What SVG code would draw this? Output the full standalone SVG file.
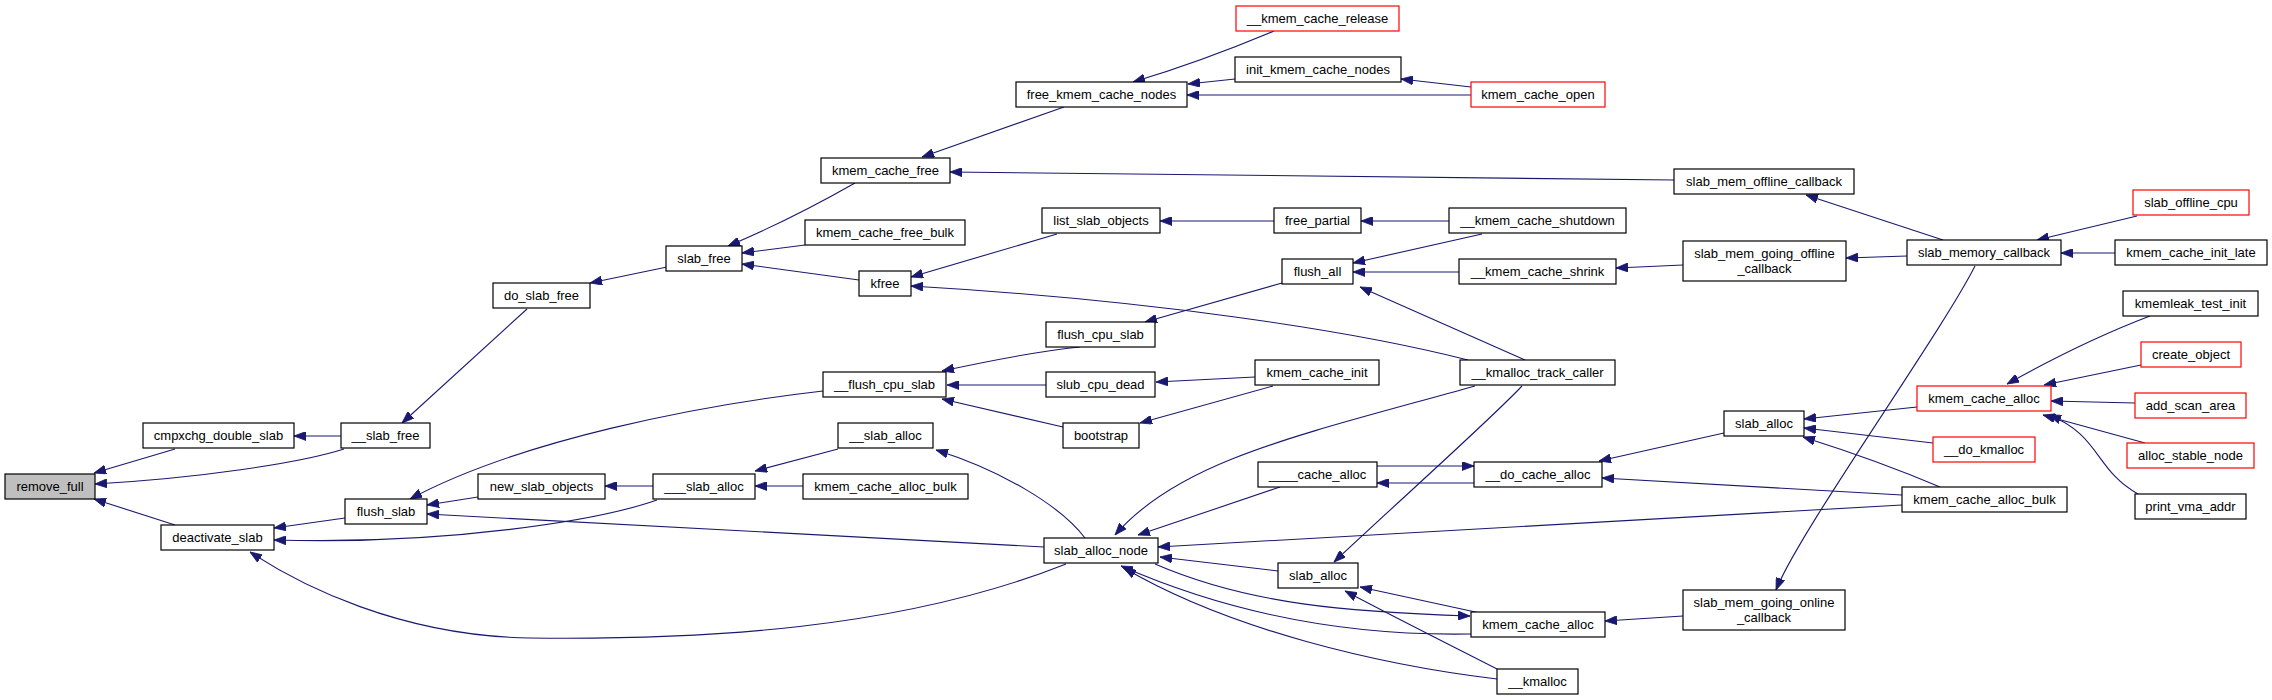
<svg xmlns="http://www.w3.org/2000/svg" width="2272" height="700" viewBox="0 0 2272 700">
<style>
.nd rect{fill:#fff;stroke:#000;stroke-width:1.2}
.nd.red rect{stroke:#ff0000}
.nd.cur rect{fill:#bfbfbf}
.nd text{font-family:"Liberation Sans",Arial,sans-serif;font-size:13px;fill:#000;text-anchor:middle}
.ed path{fill:none;stroke:#191970;stroke-width:1.1;marker-end:url(#ah)}
</style>
<defs>
<marker id="ah" viewBox="0 0 12 9" refX="12" refY="4.5" markerWidth="12" markerHeight="9" markerUnits="userSpaceOnUse" orient="auto">
<path d="M0,0 L12,4.5 L0,9 z" fill="#191970" stroke="#191970" stroke-width="0.8"/>
</marker>
</defs>
<rect width="2272" height="700" fill="#fff"/>
<g id="connectors" class="ed">
<path d="M175,449 L94,473"/>
<path d="M344,449 C300,463 200,478 95,484"/>
<path d="M175,525 L94,499"/>
<path d="M341,436 L294,436"/>
<path d="M527,309 L402,423"/>
<path d="M667,267 L590,283"/>
<path d="M855,183 Q790,220 728,246"/>
<path d="M805,245 L742,253"/>
<path d="M859,280 L742,264"/>
<path d="M1064,107 L922,157"/>
<path d="M1274,31 Q1200,62 1133,82"/>
<path d="M1235,79 L1188,84"/>
<path d="M1471,95 L1187,95"/>
<path d="M1471,87 L1401,79"/>
<path d="M1674,180 L950,172"/>
<path d="M1943,240 L1806,195"/>
<path d="M1907,256 L1846,258"/>
<path d="M2137,216 L2037,240"/>
<path d="M2115,253 L2061,253"/>
<path d="M1683,265 L1616,268"/>
<path d="M1975,266 C1940,335 1800,530 1776,590"/>
<path d="M1683,616 L1605,621"/>
<path d="M1057,234 L911,277"/>
<path d="M1274,221 L1160,221"/>
<path d="M1449,221 L1361,221"/>
<path d="M1482,234 L1353,263"/>
<path d="M1459,272 L1353,272"/>
<path d="M1525,360 L1360,287"/>
<path d="M1468,360 C1350,330 1150,300 911,286"/>
<path d="M1282,283 L1145,322"/>
<path d="M1080,347 Q1030,352 942,371"/>
<path d="M1046,385 L947,385"/>
<path d="M1063,427 L942,399"/>
<path d="M1255,377 L1156,382"/>
<path d="M1273,386 L1140,423"/>
<path d="M823,391 C700,405 520,440 410,499"/>
<path d="M478,497 L427,505"/>
<path d="M653,486 L605,486"/>
<path d="M657,500 C600,520 450,545 274,540"/>
<path d="M345,518 L274,528"/>
<path d="M1044,547 L427,514"/>
<path d="M1066,564 C900,630 700,640 530,638 C400,636 300,585 250,552"/>
<path d="M838,449 L755,471"/>
<path d="M803,486 L755,486"/>
<path d="M1085,538 C1060,505 1000,470 936,450"/>
<path d="M1475,386 C1300,435 1180,460 1115,535"/>
<path d="M1280,487 L1138,535"/>
<path d="M1377,466 L1474,466"/>
<path d="M1474,483 L1377,483"/>
<path d="M1724,433 L1599,461"/>
<path d="M1902,495 L1602,478"/>
<path d="M1902,505 L1158,547"/>
<path d="M1917,407 L1804,419"/>
<path d="M1933,443 L1804,428"/>
<path d="M1940,487 C1900,470 1860,455 1803,437"/>
<path d="M2150,316 C2100,335 2050,360 2007,384"/>
<path d="M2141,365 L2044,385"/>
<path d="M2135,403 L2051,401"/>
<path d="M2145,443 L2043,415"/>
<path d="M2138,494 C2095,470 2100,435 2049,415"/>
<path d="M1522,386 C1490,420 1400,500 1334,562"/>
<path d="M1278,571 L1160,557"/>
<path d="M1155,564 C1250,605 1350,612 1470,616"/>
<path d="M1471,634 C1360,636 1240,618 1121,566"/>
<path d="M1480,613 L1360,587"/>
<path d="M1497,669 C1450,645 1400,620 1345,591"/>
<path d="M1497,679 C1380,665 1230,630 1124,568"/>
</g>
<g id="remove_full" class="nd cur"><rect x="5" y="474" width="90" height="25"/><text x="50" y="491">remove_full</text></g>
<g id="cmpxchg_double_slab" class="nd"><rect x="143" y="423" width="151" height="25"/><text x="218.5" y="440">cmpxchg_double_slab</text></g>
<g id="__slab_free" class="nd"><rect x="341" y="423" width="89" height="25"/><text x="385.5" y="440">__slab_free</text></g>
<g id="deactivate_slab" class="nd"><rect x="161" y="525" width="113" height="25"/><text x="217.5" y="542">deactivate_slab</text></g>
<g id="flush_slab" class="nd"><rect x="345" y="499" width="82" height="25"/><text x="386" y="516">flush_slab</text></g>
<g id="do_slab_free" class="nd"><rect x="493" y="283" width="97" height="25"/><text x="541.5" y="300">do_slab_free</text></g>
<g id="slab_free" class="nd"><rect x="666" y="246" width="76" height="25"/><text x="704" y="263">slab_free</text></g>
<g id="new_slab_objects" class="nd"><rect x="478" y="474" width="127" height="25"/><text x="541.5" y="491">new_slab_objects</text></g>
<g id="___slab_alloc" class="nd"><rect x="653" y="474" width="102" height="25"/><text x="704" y="491">___slab_alloc</text></g>
<g id="kmem_cache_free" class="nd"><rect x="821" y="158" width="129" height="25"/><text x="885.5" y="175">kmem_cache_free</text></g>
<g id="kmem_cache_free_bulk" class="nd"><rect x="805" y="220" width="160" height="25"/><text x="885" y="237">kmem_cache_free_bulk</text></g>
<g id="kfree" class="nd"><rect x="859" y="271" width="52" height="25"/><text x="885" y="288">kfree</text></g>
<g id="__flush_cpu_slab" class="nd"><rect x="823" y="372" width="123" height="25"/><text x="884.5" y="389">__flush_cpu_slab</text></g>
<g id="__slab_alloc" class="nd"><rect x="838" y="423" width="95" height="25"/><text x="885.5" y="440">__slab_alloc</text></g>
<g id="kmem_cache_alloc_bulk_a" class="nd"><rect x="803" y="474" width="165" height="25"/><text x="885.5" y="491">kmem_cache_alloc_bulk</text></g>
<g id="free_kmem_cache_nodes" class="nd"><rect x="1016" y="82" width="171" height="25"/><text x="1101.5" y="99">free_kmem_cache_nodes</text></g>
<g id="list_slab_objects" class="nd"><rect x="1042" y="208" width="118" height="25"/><text x="1101" y="225">list_slab_objects</text></g>
<g id="flush_cpu_slab" class="nd"><rect x="1046" y="322" width="109" height="25"/><text x="1100.5" y="339">flush_cpu_slab</text></g>
<g id="slub_cpu_dead" class="nd"><rect x="1046" y="372" width="109" height="25"/><text x="1100.5" y="389">slub_cpu_dead</text></g>
<g id="bootstrap" class="nd"><rect x="1063" y="423" width="76" height="25"/><text x="1101" y="440">bootstrap</text></g>
<g id="slab_alloc_node" class="nd"><rect x="1044" y="538" width="114" height="25"/><text x="1101" y="555">slab_alloc_node</text></g>
<g id="__kmem_cache_release" class="nd red"><rect x="1236" y="6" width="163" height="25"/><text x="1317.5" y="23">__kmem_cache_release</text></g>
<g id="init_kmem_cache_nodes" class="nd"><rect x="1235" y="57" width="166" height="25"/><text x="1318" y="74">init_kmem_cache_nodes</text></g>
<g id="free_partial" class="nd"><rect x="1274" y="208" width="87" height="25"/><text x="1317.5" y="225">free_partial</text></g>
<g id="flush_all" class="nd"><rect x="1282" y="259" width="71" height="25"/><text x="1317.5" y="276">flush_all</text></g>
<g id="kmem_cache_init" class="nd"><rect x="1255" y="360" width="124" height="25"/><text x="1317" y="377">kmem_cache_init</text></g>
<g id="____cache_alloc" class="nd"><rect x="1258" y="462" width="119" height="25"/><text x="1317.5" y="479">____cache_alloc</text></g>
<g id="slab_alloc_b" class="nd"><rect x="1278" y="563" width="80" height="25"/><text x="1318" y="580">slab_alloc</text></g>
<g id="kmem_cache_open" class="nd red"><rect x="1471" y="82" width="134" height="25"/><text x="1538" y="99">kmem_cache_open</text></g>
<g id="__kmem_cache_shutdown" class="nd"><rect x="1449" y="208" width="177" height="25"/><text x="1537.5" y="225">__kmem_cache_shutdown</text></g>
<g id="__kmem_cache_shrink" class="nd"><rect x="1459" y="259" width="157" height="25"/><text x="1537.5" y="276">__kmem_cache_shrink</text></g>
<g id="__kmalloc_track_caller" class="nd"><rect x="1460" y="360" width="155" height="25"/><text x="1537.5" y="377">__kmalloc_track_caller</text></g>
<g id="__do_cache_alloc" class="nd"><rect x="1474" y="462" width="128" height="25"/><text x="1538" y="479">__do_cache_alloc</text></g>
<g id="kmem_cache_alloc_b" class="nd"><rect x="1471" y="612" width="134" height="25"/><text x="1538" y="629">kmem_cache_alloc</text></g>
<g id="__kmalloc" class="nd"><rect x="1497" y="669" width="81" height="25"/><text x="1537.5" y="686">__kmalloc</text></g>
<g id="slab_mem_offline_callback" class="nd"><rect x="1674" y="169" width="180" height="25"/><text x="1764" y="186">slab_mem_offline_callback</text></g>
<g id="slab_mem_going_offline_callback" class="nd"><rect x="1683" y="241" width="163" height="40"/><text x="1764.5" y="257.5">slab_mem_going_offline</text><text x="1764.5" y="272.5">_callback</text></g>
<g id="slab_alloc_a" class="nd"><rect x="1724" y="411" width="80" height="25"/><text x="1764" y="428">slab_alloc</text></g>
<g id="slab_mem_going_online_callback" class="nd"><rect x="1683" y="590" width="162" height="40"/><text x="1764" y="606.5">slab_mem_going_online</text><text x="1764" y="621.5">_callback</text></g>
<g id="slab_memory_callback" class="nd"><rect x="1907" y="240" width="154" height="25"/><text x="1984" y="257">slab_memory_callback</text></g>
<g id="kmem_cache_alloc_a" class="nd red"><rect x="1917" y="386" width="134" height="25"/><text x="1984" y="403">kmem_cache_alloc</text></g>
<g id="__do_kmalloc" class="nd red"><rect x="1933" y="437" width="102" height="25"/><text x="1984" y="454">__do_kmalloc</text></g>
<g id="kmem_cache_alloc_bulk_b" class="nd"><rect x="1902" y="487" width="165" height="25"/><text x="1984.5" y="504">kmem_cache_alloc_bulk</text></g>
<g id="slab_offline_cpu" class="nd red"><rect x="2133" y="190" width="116" height="25"/><text x="2191" y="207">slab_offline_cpu</text></g>
<g id="kmem_cache_init_late" class="nd"><rect x="2115" y="240" width="152" height="25"/><text x="2191" y="257">kmem_cache_init_late</text></g>
<g id="kmemleak_test_init" class="nd"><rect x="2123" y="291" width="135" height="25"/><text x="2190.5" y="308">kmemleak_test_init</text></g>
<g id="create_object" class="nd red"><rect x="2141" y="342" width="100" height="25"/><text x="2191" y="359">create_object</text></g>
<g id="add_scan_area" class="nd red"><rect x="2135" y="393" width="111" height="25"/><text x="2190.5" y="410">add_scan_area</text></g>
<g id="alloc_stable_node" class="nd red"><rect x="2127" y="443" width="127" height="25"/><text x="2190.5" y="460">alloc_stable_node</text></g>
<g id="print_vma_addr" class="nd"><rect x="2135" y="494" width="111" height="25"/><text x="2190.5" y="511">print_vma_addr</text></g>
</svg>
